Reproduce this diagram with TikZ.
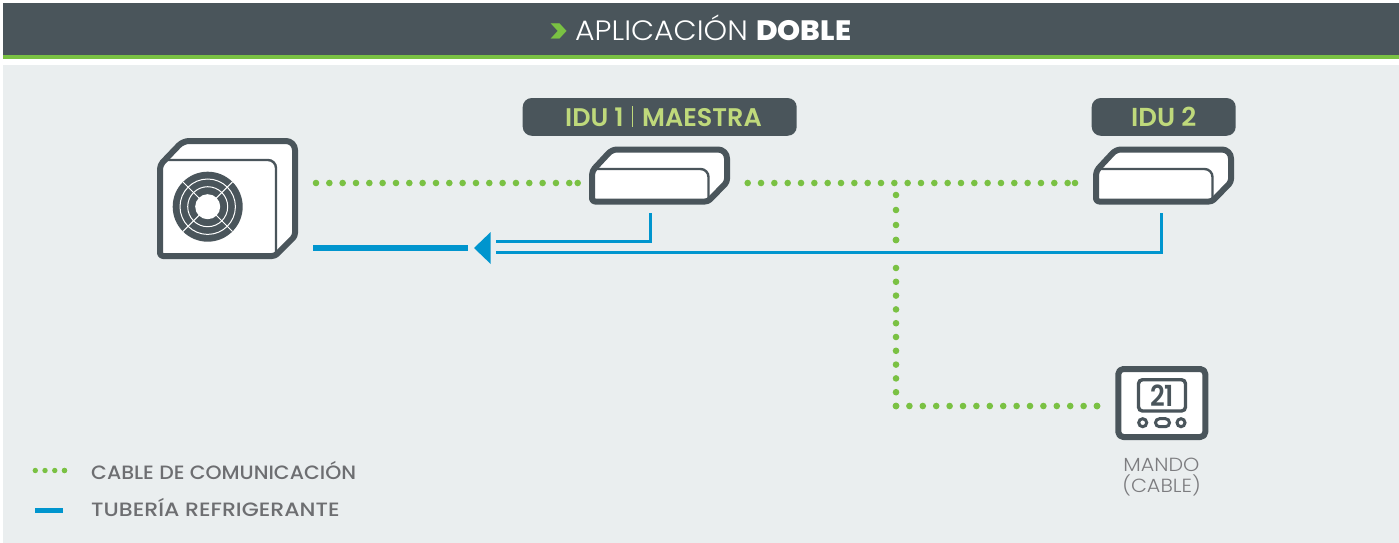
\documentclass[tikz,border=0pt]{standalone}
\usepackage{fontspec}
\usetikzlibrary{calc}
\setmainfont{Poppins}
\newfontfamily\plight[FakeStretch=1.07]{Poppins Light}
\newfontfamily\plightb[FakeStretch=1.09]{Poppins Light}
\newfontfamily\pmed[FakeStretch=1.06]{Poppins Medium}
\newfontfamily\pmedb[FakeStretch=1.143]{Poppins Medium}
\newfontfamily\psemi{Poppins SemiBold}
\newfontfamily\psemid[FakeStretch=0.88]{Poppins SemiBold}
\newfontfamily\pbold[FakeStretch=1.05]{Poppins ExtraBold}
\definecolor{dark}{HTML}{4A555B}
\definecolor{panel}{HTML}{EAEEEF}
\definecolor{grn}{HTML}{7AC143}
\definecolor{lime}{HTML}{BFD97B}
\definecolor{blu}{HTML}{0095CE}
\definecolor{gtext}{HTML}{6D6E71}
\tikzset{
  x=1pt,y=-1pt,
  dots/.style={draw=grn,line width=6.6pt,line cap=round,dash pattern=on 0pt off #1},
  dots/.default=13.33pt,
  pipe/.style={draw=blu,line width=3pt},
  thickpipe/.style={draw=blu,line width=5.5pt},
  unit/.style={draw=dark,line width=6pt,fill=white,line join=round},
  unitline/.style={draw=dark,line width=2.4pt},
  tag/.style={fill=dark,rounded corners=9pt,inner sep=0pt,minimum height=37.7pt,text=lime,font=\psemi\fontsize{26}{26}\selectfont},
  legendtxt/.style={anchor=west,inner sep=0pt,text=gtext},
  pt/.style={inner sep=0pt,minimum size=0pt},
}
\newcommand{\indoorunit}[1]{%
  \begin{scope}[xshift=#1]
    \draw[unit,rounded corners=4pt] (592,201.5) -- (592,171) [rounded corners=5pt] -- (612,149.5) [rounded corners=9pt] -- (727,149.5) [rounded corners=3pt] -- (727,182) -- (708,201.5) -- cycle;
    \draw[unitline,rounded corners=8pt] (708.5,201) -- (708.5,169) -- (595,169);
  \end{scope}}
\begin{document}
\begin{tikzpicture}
\useasboundingbox (0,0) rectangle (1399,543);
\fill[white] (0,0) rectangle (1399,543);
% header
\fill[dark] (3,3) rectangle (1399,55);
\fill[grn] (3,55) rectangle (1399,59.5);
\fill[panel] (3,65) rectangle (1399,543);
\node[pt,anchor=base west,text=grn,font=\pbold\fontsize{35}{35}\selectfont] (chev) at (549,43.5) {>};
\node[pt,anchor=base west,text=white,font=\plight\fontsize{28}{28}\selectfont] (t1) at (575,41) {APLICACIÓN};
\node[pt,anchor=base west,text=white,font=\pbold\fontsize{28}{28}\selectfont] (t2) at (756,41) {DOBLE};
% outdoor unit
\draw[unit,rounded corners=4pt] (160,256) -- (160,165) [rounded corners=6pt] -- (183,141) [rounded corners=9pt] -- (295,141) [rounded corners=3pt] -- (295,236) -- (275,256) -- cycle;
\draw[unitline,rounded corners=8pt] (276,256) -- (276,160) -- (163,160);
\fill[dark] (207.7,206.7) circle (35);
\fill[white] (207.7,206.7) circle (12.5);
\draw[white,line width=1pt] (207.7,206.7) circle (27.7) (207.7,206.7) circle (20);
\foreach \a in {45,135,225,315}
  \draw[white,line width=1pt] ($(207.7,206.7)+(\a:12)$) -- ($(207.7,206.7)+(\a:35)$);
% indoor units
\indoorunit{0pt}
\indoorunit{504pt}
% tags
\node[tag,minimum width=274pt] (idua) at (659.7,116.9) {};
\node[pt,anchor=base west,text=lime,font=\psemi\fontsize{25.5}{25.5}\selectfont] (idu1t) at (565,126) {IDU 1};
\node[pt,anchor=base west,text=lime,font=\psemi\fontsize{25.5}{25.5}\selectfont] (maes) at (642,126) {MAESTRA};
\draw[lime,line width=0.8pt] (632,106) -- (632,127);
\node[tag,minimum width=144pt] (idub) at (1163.7,116.9) {IDU 2};
% thermostat
\draw[unit,rounded corners=5pt] (1118.3,369) rectangle (1205.3,437);
\draw[dark,line width=3.4pt,rounded corners=4pt] (1138.5,379.7) rectangle (1185.5,411);
\node[pt,text=dark,font=\psemid\fontsize{29}{29}\selectfont] (temp) at (1162,395.5) {21};
\draw[dark,line width=3pt] (1142.7,422.7) circle (4);
\draw[dark,line width=3pt] (1181,422.7) circle (4);
\draw[dark,line width=3pt,rounded corners=4pt] (1155.5,418.7) rectangle (1169.5,426.7);
\node[pt,align=center,text=gtext!90,font=\plightb\fontsize{19}{21}\selectfont] (mando) at (1161.5,477) {MANDO\\(CABLE)};
% connector anchors
\coordinate (a0) at (316,183);
\coordinate (a1) at (577.7,183);
\coordinate (b0) at (747.7,183);
\coordinate (b1) at (1075,183);
\coordinate (v0) at (896,195);
\coordinate (v1) at (896,240);
\coordinate (v2) at (896,268);
\coordinate (v3) at (896,406);
\coordinate (h1) at (1097,406);
\coordinate (p0) at (313,248);
\coordinate (p1) at (468,248);
\coordinate (u0) at (496,241);
\coordinate (u1) at (650,241);
\coordinate (u2) at (650,212.7);
\coordinate (l0) at (496,252.7);
\coordinate (l1) at (1161.7,252.7);
\coordinate (l2) at (1161.7,212.7);
% green dotted cables
\draw[dots] (a0) -- (a1);
\fill[grn] (a1) circle (3.3);
\draw[dots] (b0) -- (b1);
\fill[grn] (b1) circle (3.3);
\draw[dots=15pt] (v0) -- (v1);
\fill[grn] (v1) circle (3.3);
\draw[dots=13.8pt] (v2) -- (v3);
\draw[dots=13.4pt] (v3) -- (h1);
\fill[grn] (h1) circle (3.3);
% blue pipes
\draw[thickpipe] (p0) -- (p1);
\fill[blu] (474,248) -- (490.7,232) -- (490.7,264) -- cycle;
\draw[pipe,line join=miter] (u0) -- (u1) -- (u2);
\draw[pipe,line join=miter] (l0) -- (l1) -- (l2);
% legend
\coordinate (d0) at (35.3,470.5);
\coordinate (d1) at (64.5,470.5);
\coordinate (e0) at (35,510);
\coordinate (e1) at (63,510);
\draw[grn,line width=5.4pt,line cap=round,dash pattern=on 0pt off 9.73pt] (d0) -- (d1);
\fill[grn] (d1) circle (2.7);
\draw[blu,line width=5pt] (e0) -- (e1);
\node[legendtxt,font=\pmed\fontsize{19.3}{19.3}\selectfont] (lg1) at (91,470) {CABLE DE COMUNICACIÓN};
\node[legendtxt,font=\pmedb\fontsize{19.3}{19.3}\selectfont] (lg2) at (91,507) {TUBERÍA REFRIGERANTE};
\end{tikzpicture}
\end{document}
